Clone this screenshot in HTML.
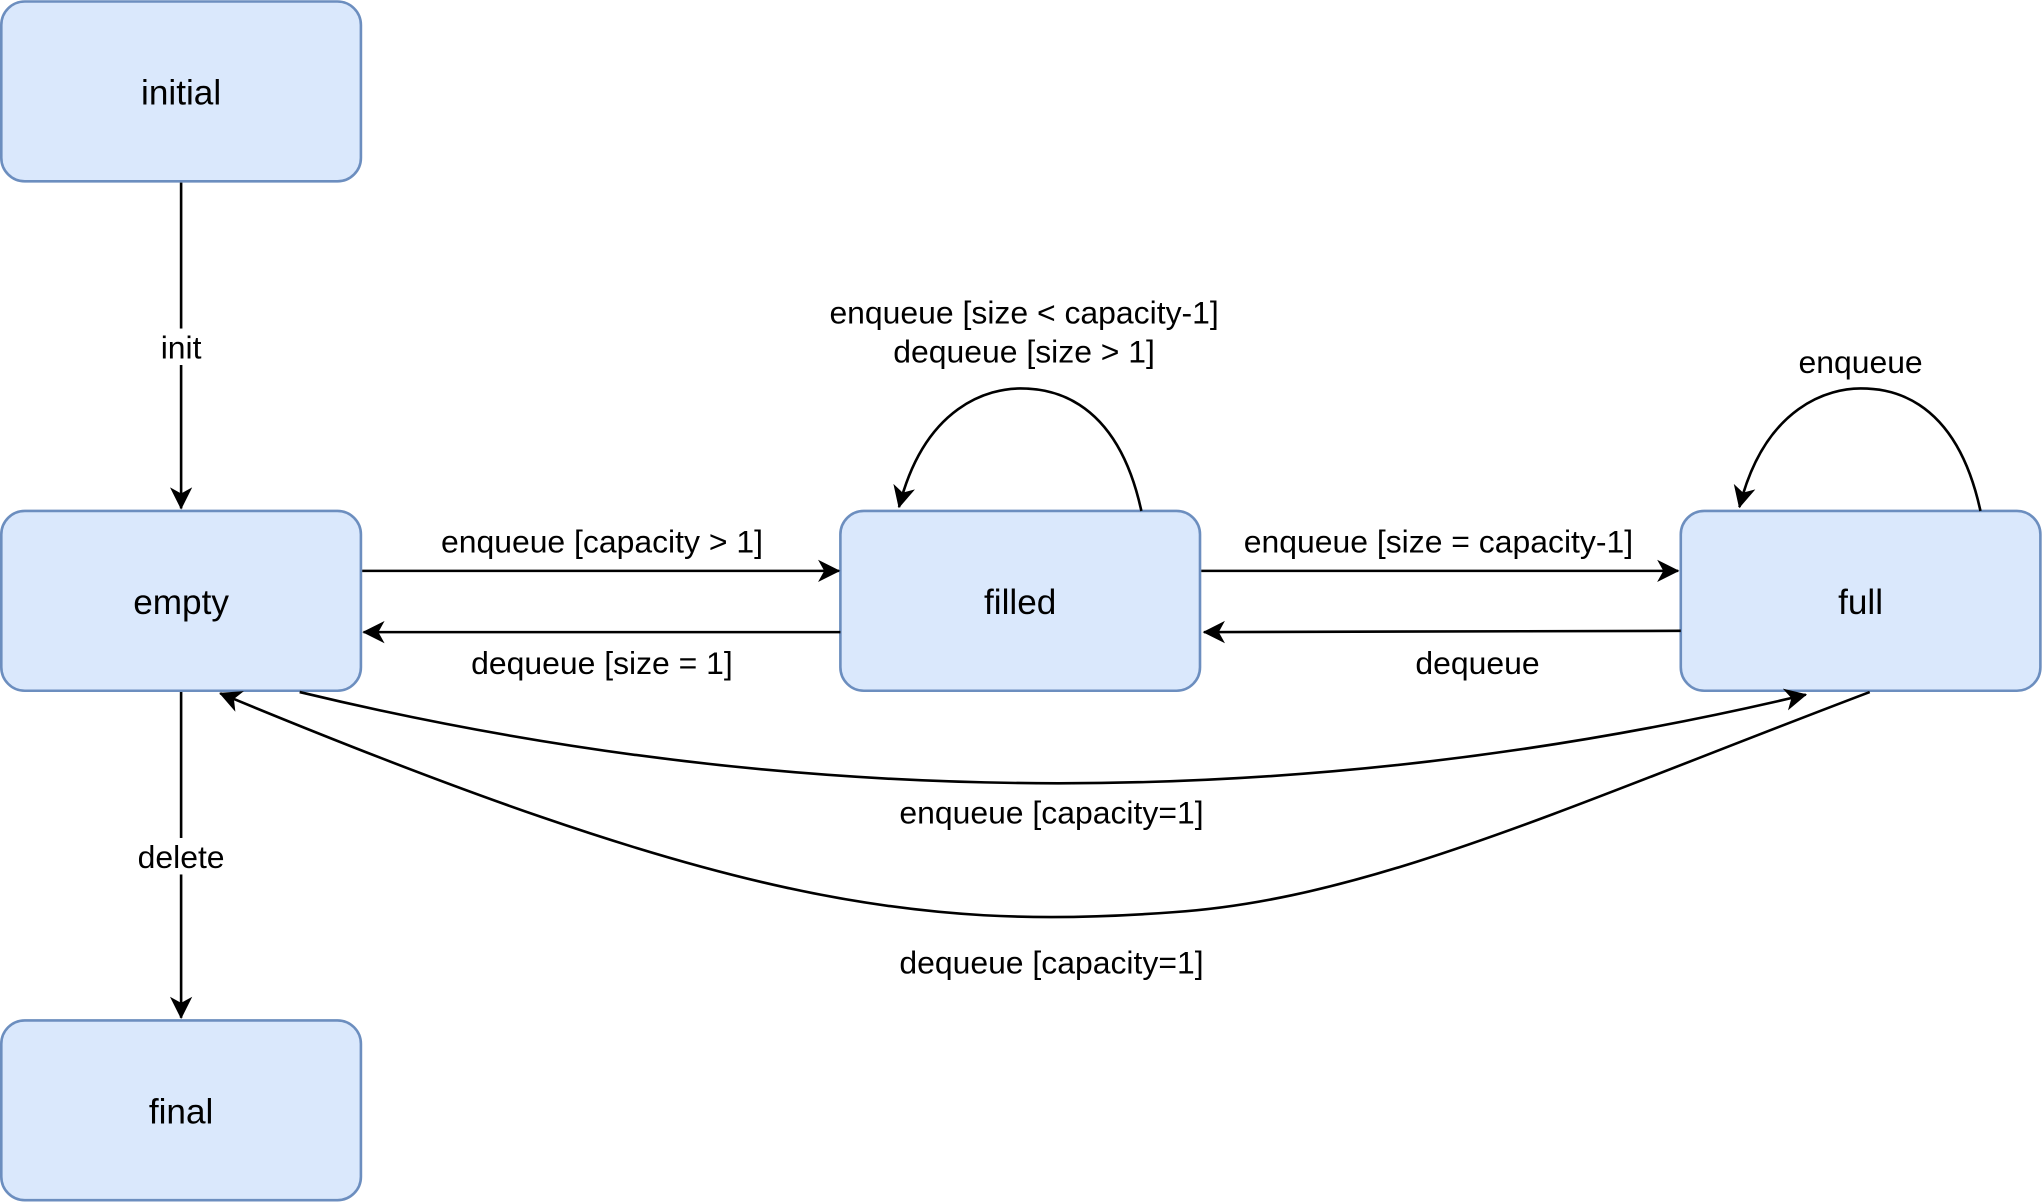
<!DOCTYPE html>
<html><head><style>html,body{margin:0;padding:0;background:#fff}svg{display:block}</style></head>
<body>
<svg width="2043" height="1203" viewBox="0 0 1568 923" xmlns="http://www.w3.org/2000/svg" font-family="Liberation Sans, Arial, sans-serif">
<defs>
<marker id="a" viewBox="0 0 20 20" refX="17" refY="10" markerWidth="19" markerHeight="19" orient="auto" markerUnits="userSpaceOnUse">
<path d="M0,1 L18,10 L0,19 L5,10 Z" fill="#000"/>
</marker>
</defs>
<g fill="#dae8fc" stroke="#6c8ebf" stroke-width="2">
<rect x="1" y="1" width="276" height="138" rx="18"/>
<rect x="1" y="392" width="276" height="138" rx="18"/>
<rect x="1" y="783" width="276" height="138" rx="18"/>
<rect x="645" y="392" width="276" height="138" rx="18"/>
<rect x="1290" y="392" width="276" height="138" rx="18"/>
</g>
<g font-size="27" text-anchor="middle" fill="#000">
<text x="139" y="80">initial</text>
<text x="139" y="471">empty</text>
<text x="139" y="862">final</text>
<text x="783" y="471">filled</text>
<text x="1428" y="471">full</text>
</g>
<g stroke="#000" stroke-width="2" fill="none" marker-end="url(#a)">
<path d="M139,140 L139,390"/>
<path d="M139,531 L139,781"/>
<path d="M278,438 L644,438"/>
<path d="M645,485 L279,485"/>
<path d="M922,438 L1288,438"/>
<path d="M1290,484 L924,485"/>
<path d="M876,392 C856,300 800,298 783,298 C760,298 710,310 690,389"/>
<path d="M1520,392 C1500,300 1445,298 1428,298 C1405,298 1355,310 1335,389"/>
<path d="M230,531 Q808,670 1386,533"/>
<path d="M1435,531 C1200,620 1050,690 900,700 C700,715 550,690 169,532"/>
</g>
<g font-size="24.5" text-anchor="middle" fill="#000">
<rect x="118" y="252" width="42" height="28" fill="#fff"/>
<text x="139" y="275">init</text>
<rect x="102" y="643" width="74" height="28" fill="#fff"/>
<text x="139" y="666">delete</text>
<text x="462" y="424">enqueue [capacity &gt; 1]</text>
<text x="462" y="517">dequeue [size = 1]</text>
<text x="1104" y="424">enqueue [size = capacity-1]</text>
<text x="1134" y="517">dequeue</text>
<text x="786" y="248">enqueue [size &lt; capacity-1]</text>
<text x="786" y="278">dequeue [size &gt; 1]</text>
<text x="1428" y="286">enqueue</text>
<text x="807" y="632">enqueue [capacity=1]</text>
<text x="807" y="747">dequeue [capacity=1]</text>
</g>
</svg>
</body></html>
